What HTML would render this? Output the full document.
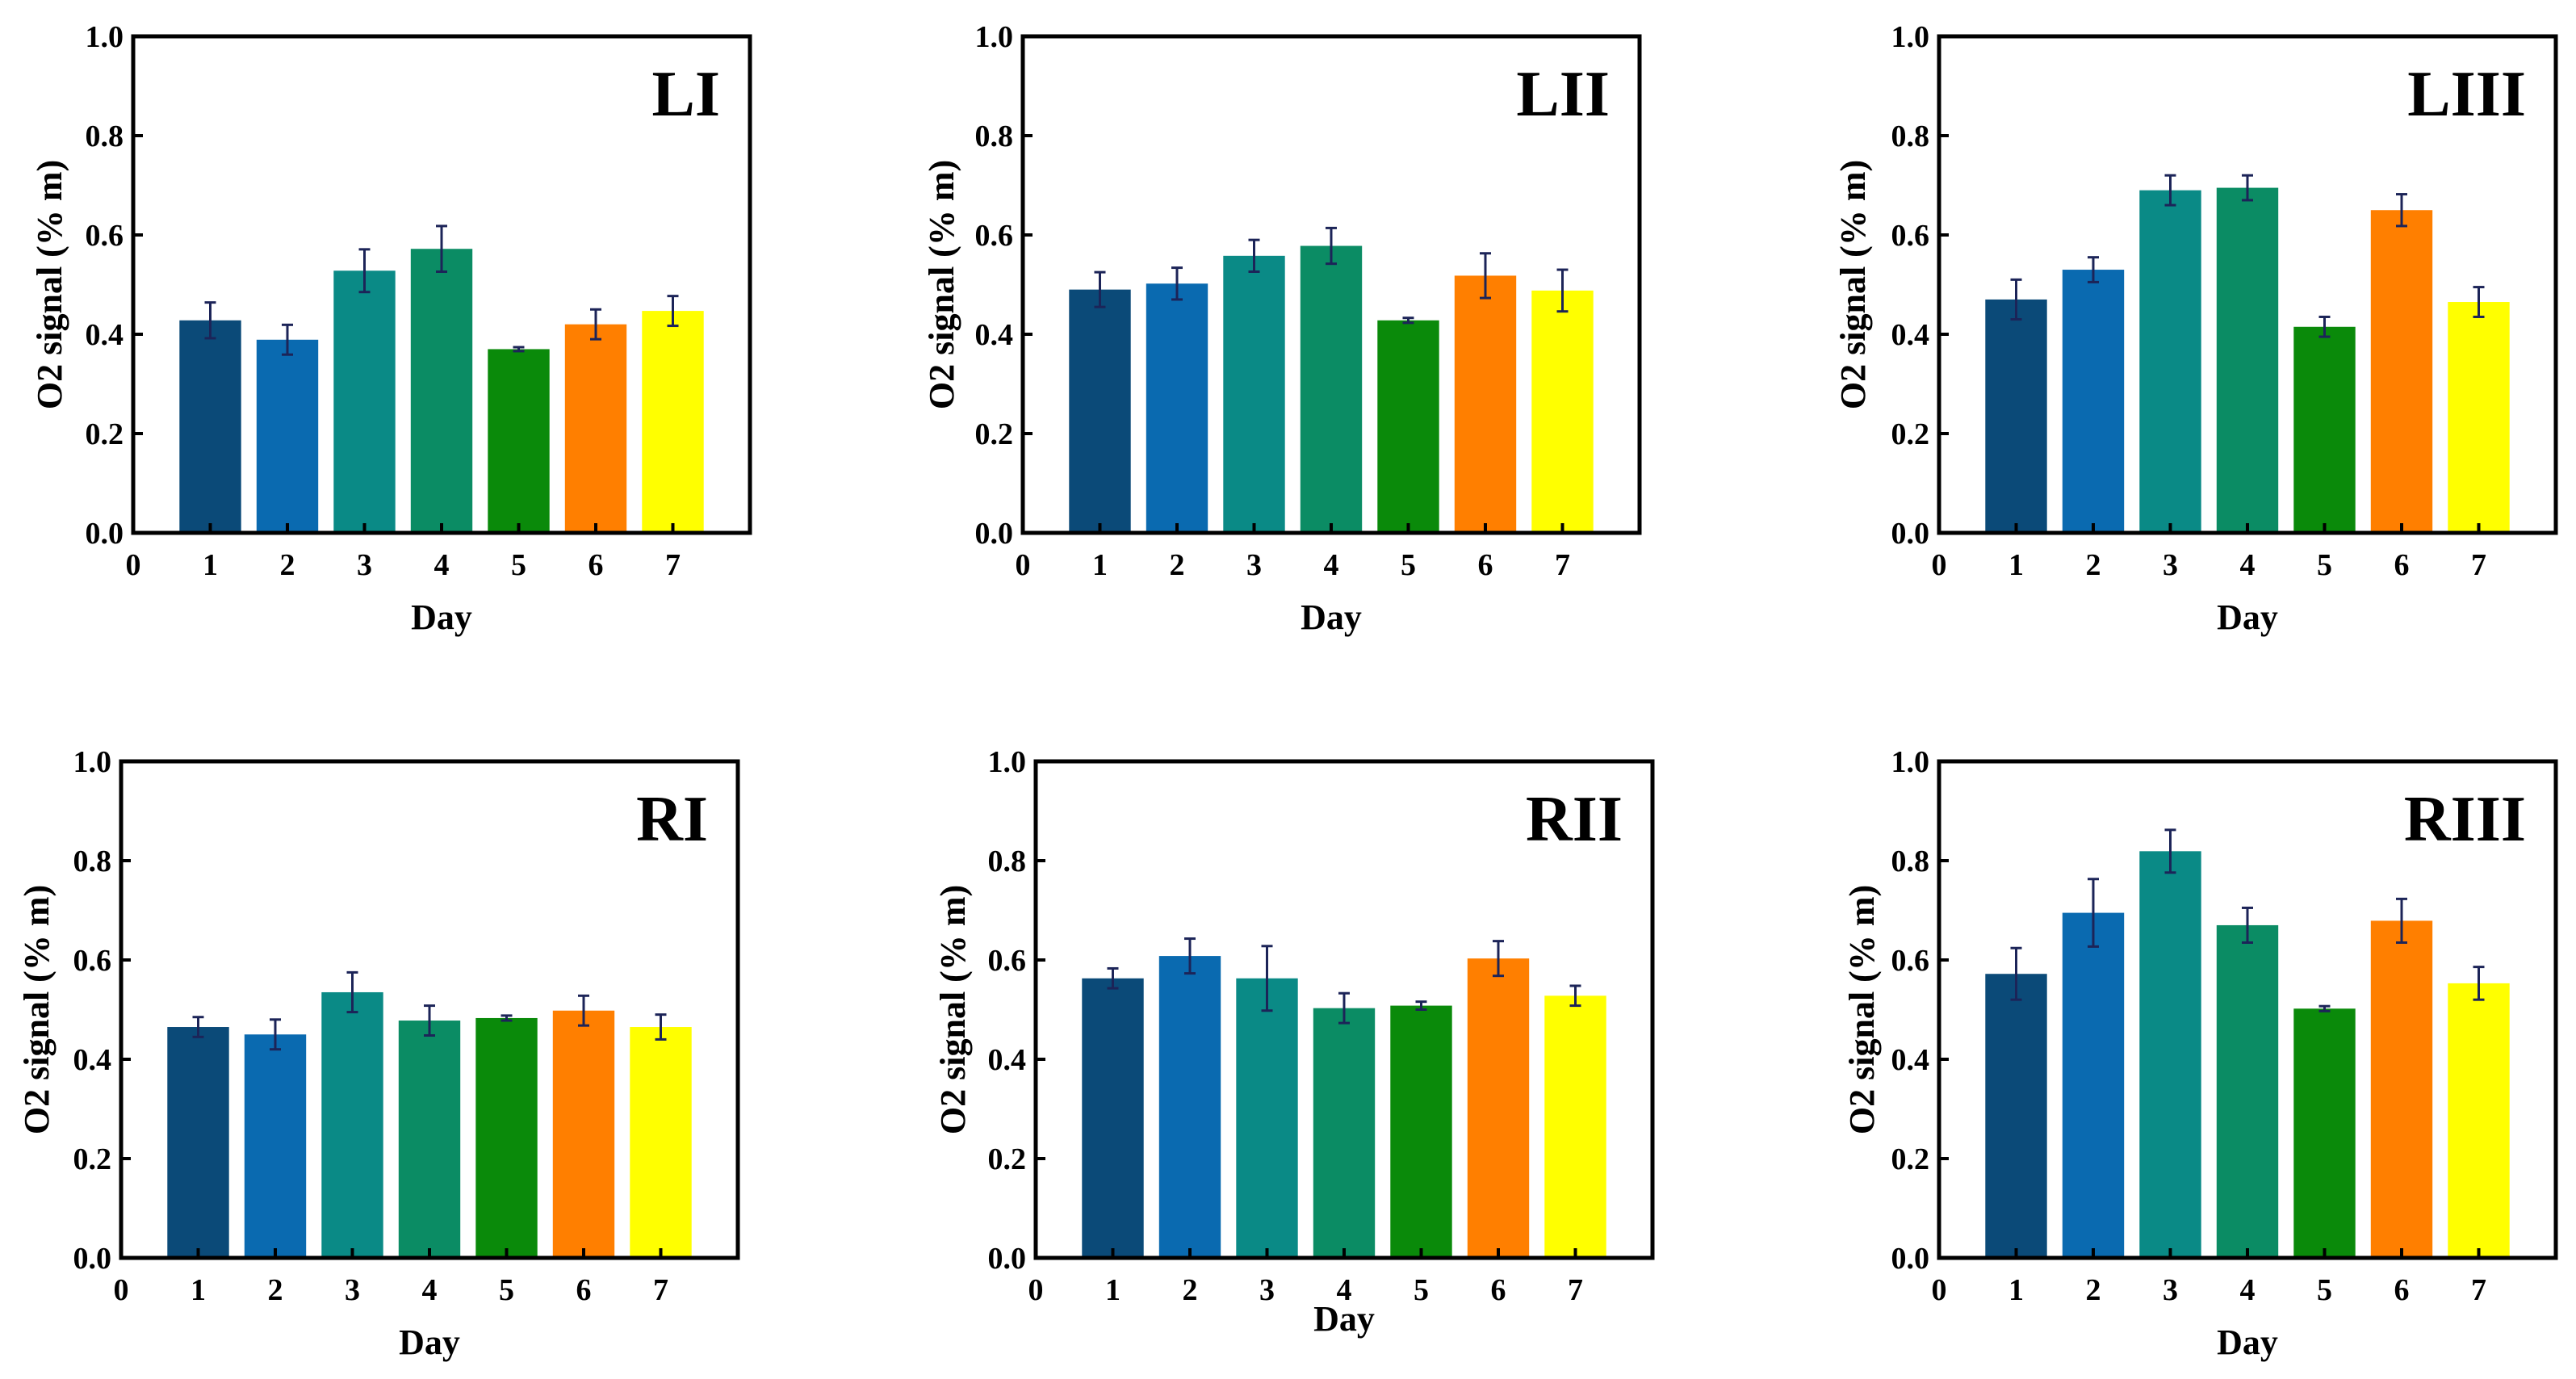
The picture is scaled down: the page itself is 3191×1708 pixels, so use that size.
<!DOCTYPE html>
<html><head><meta charset="utf-8"><style>
html,body{margin:0;padding:0;background:#fff;}
svg{display:block;font-family:"Liberation Serif",serif;font-weight:bold;}
</style></head><body>
<svg id="fig" width="3191" height="1708" viewBox="0 0 3191 1708" xmlns="http://www.w3.org/2000/svg"></svg>
<script>
const days = [1,2,3,4,5,6,7];
const yTicks = [0.0,0.2,0.4,0.6,0.8,1.0];
const xTicks = [0,1,2,3,4,5,6,7];
const colors = ["#0b4a78","#0a6ab0","#0a8a86","#0b8c64","#0a8a0a","#ff7f00","#ffff00"];
const panelNames = ["LI","LII","LIII","RI","RII","RIII"];
const valsLI = [0.428,0.389,0.528,0.572,0.370,0.420,0.447];
const errLI = [0.036,0.030,0.043,0.046,0.004,0.030,0.030];
const valsLII = [0.490,0.502,0.558,0.578,0.428,0.518,0.488];
const errLII = [0.035,0.032,0.032,0.036,0.005,0.045,0.042];
const valsLIII = [0.470,0.530,0.690,0.695,0.415,0.650,0.465];
const errLIII = [0.040,0.025,0.030,0.025,0.020,0.032,0.030];
const valsRI = [0.465,0.450,0.535,0.478,0.483,0.498,0.465];
const errRI = [0.020,0.030,0.040,0.030,0.005,0.030,0.025];
const valsRII = [0.563,0.608,0.563,0.503,0.508,0.603,0.528];
const errRII = [0.020,0.035,0.065,0.030,0.008,0.035,0.020];
const valsRIII = [0.572,0.695,0.819,0.670,0.502,0.679,0.553];
const errRIII = [0.052,0.068,0.043,0.035,0.005,0.044,0.033];
const allVals = [valsLI,valsLII,valsLIII,valsRI,valsRII,valsRIII];
const allErr = [errLI,errLII,errLIII,errRI,errRII,errRIII];

const layout = [
 {l:165,t:45,yt:61,dy:765},{l:1267,t:45,yt:1166,dy:765},{l:2402,t:45,yt:2295,dy:765},
 {l:150,t:943,yt:45,dy:1663},{l:1283,t:943,yt:1180,dy:1634},{l:2402,t:943,yt:2306,dy:1663}
];
const W=764,H=615,XMAX=8;
const NS="http://www.w3.org/2000/svg";
const svg=document.getElementById('fig');
function mk(tag,attrs,parent){const e=document.createElementNS(NS,tag);for(const k in attrs)e.setAttribute(k,attrs[k]);parent.appendChild(e);return e;}

panelNames.forEach((name,p)=>{
  const L=layout[p];
  const xs=v=>L.l+v/XMAX*W;
  const ys=v=>L.t+H-v*H;
  const g=mk('g',{},svg);
  
  
  const bw=0.8*W/XMAX;
  days.forEach((d,i)=>{
    const v=allVals[p][i], e=allErr[p][i];
    const r=mk('rect',{x:xs(d)-bw/2,y:ys(v),width:bw,height:ys(0)-ys(v),fill:colors[i]},g);
    
    
    const eb=mk('g',{stroke:"#1c2458","stroke-width":3},g);
    
    
    mk('line',{x1:xs(d),x2:xs(d),y1:ys(v+e),y2:ys(v-e)},eb);
    mk('line',{x1:xs(d)-7,x2:xs(d)+7,y1:ys(v+e),y2:ys(v+e)},eb);
    mk('line',{x1:xs(d)-7,x2:xs(d)+7,y1:ys(v-e),y2:ys(v-e)},eb);
  });
  const frame=mk('rect',{x:L.l,y:L.t,width:W,height:H,fill:"none",stroke:"#000","stroke-width":5},g);
  
  
  yTicks.forEach(v=>{
    mk('line',{x1:L.l,x2:L.l+12,y1:ys(v),y2:ys(v),stroke:"#000","stroke-width":4},g);
    const t=mk('text',{x:L.l-12,y:ys(v)+13,"text-anchor":"end","font-size":38},g);
    t.textContent=v.toFixed(1);
    
    
  });
  xTicks.forEach(v=>{
    mk('line',{x1:xs(v),x2:xs(v),y1:ys(0),y2:ys(0)-12,stroke:"#000","stroke-width":4},g);
    const t=mk('text',{x:xs(v),y:ys(0)+52,"text-anchor":"middle","font-size":38},g);
    t.textContent=v;
    
    
  });
  const xt=mk('text',{x:L.l+W/2,y:L.dy+14,"text-anchor":"middle","font-size":44},g);
  xt.textContent="Day";
  
  
  const yt=mk('text',{x:0,y:0,"text-anchor":"middle","font-size":44,transform:`translate(${L.yt+15},${L.t+H/2}) rotate(-90)`},g);
  yt.innerHTML='O<tspan font-size="44">2</tspan> signal (% m)';
  
  
  const pl=mk('text',{x:L.l+W-37,y:L.t+98,"text-anchor":"end","font-size":80},g);
  pl.textContent=name;
  
  
});
</script>
</body></html>
